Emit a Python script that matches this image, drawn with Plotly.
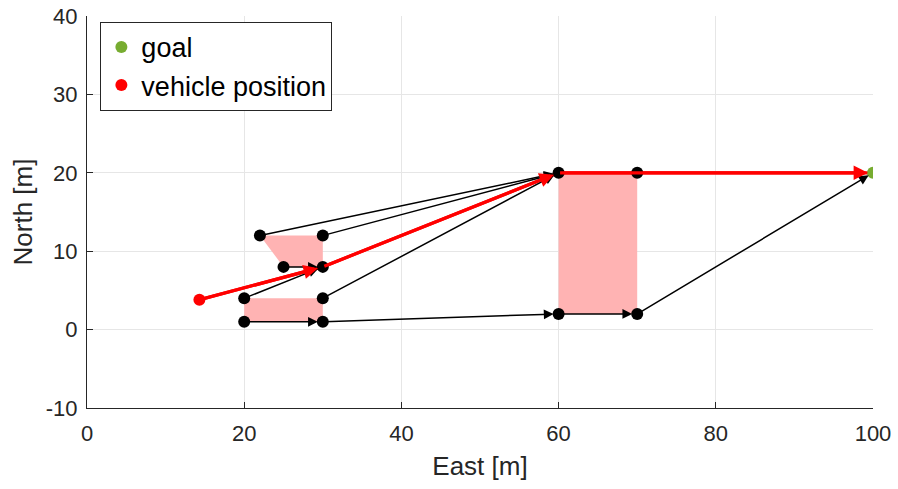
import plotly.graph_objects as go

# Graph nodes (East, North) in metres
node_east = [22, 30, 25, 30, 20, 30, 20, 30, 60, 70, 60, 70]
node_north = [12, 12, 8, 8, 4, 4, 1, 1, 20, 20, 2, 2]

goal_east, goal_north = [100], [20]
vehicle_east, vehicle_north = [14.3], [3.8]

# Shaded regions (polygon vertices)
regions = [
    ([22, 30, 30, 25], [12, 12, 8, 8]),
    ([20, 30, 30, 20], [1, 1, 4, 4]),
    ([60, 70, 70, 60], [2, 2, 20, 20]),
]

# Candidate edges (from -> to)
edges = [
    ((22, 12), (60, 20)),
    ((30, 12), (60, 20)),
    ((25, 8), (30, 8)),
    ((20, 4), (30, 8)),
    ((30, 8), (60, 20)),
    ((30, 4), (60, 20)),
    ((20, 1), (30, 1)),
    ((30, 1), (60, 2)),
    ((60, 2), (70, 2)),
    ((70, 2), (100, 20)),
]

# Chosen path
path_east = [14.3, 30, 60, 100]
path_north = [3.8, 8, 20, 20]

x_ticks = [0, 20, 40, 60, 80, 100]
y_ticks = [-10, 0, 10, 20, 30, 40]

fig = go.Figure()

for xs, ys in regions:
    fig.add_trace(go.Scatter(
        x=xs + [xs[0]], y=ys + [ys[0]], fill="toself", mode="none",
        fillcolor="rgb(255,179,179)", showlegend=False, hoverinfo="skip"))

# Path line drawn as a trace so it stays continuous
fig.add_trace(go.Scatter(
    x=path_east, y=path_north, mode="lines",
    line=dict(color="red", width=3.2), showlegend=False, hoverinfo="skip"))

annotations = []
for (x0, y0), (x1, y1) in edges:
    annotations.append(dict(
        x=x1, y=y1, ax=x0, ay=y0, xref="x", yref="y", axref="x", ayref="y",
        showarrow=True, arrowhead=2, arrowsize=1.3, arrowwidth=1.5,
        arrowcolor="black", standoff=5, text=""))

for i in range(len(path_east) - 1):
    annotations.append(dict(
        x=path_east[i + 1], y=path_north[i + 1], ax=path_east[i], ay=path_north[i],
        xref="x", yref="y", axref="x", ayref="y",
        showarrow=True, arrowhead=2, arrowsize=0.9, arrowwidth=3.2,
        arrowcolor="red", standoff=5, text=""))

fig.add_trace(go.Scatter(
    x=node_east, y=node_north, mode="markers",
    marker=dict(color="black", size=12), showlegend=False, hoverinfo="skip"))

fig.add_trace(go.Scatter(
    x=goal_east, y=goal_north, mode="markers", name="goal",
    marker=dict(color="rgb(119,172,48)", size=12)))

fig.add_trace(go.Scatter(
    x=vehicle_east, y=vehicle_north, mode="markers", name="vehicle position",
    marker=dict(color="red", size=12)))

axis_common = dict(
    showgrid=True, gridcolor="rgb(230,230,230)", gridwidth=1,
    zeroline=False, showline=True, linecolor="rgb(38,38,38)", linewidth=1,
    ticks="inside", ticklen=6, tickcolor="rgb(38,38,38)",
    tickfont=dict(size=22, color="rgb(38,38,38)"),
    mirror=False, automargin=False,
)

fig.update_layout(
    width=898, height=489,
    margin=dict(l=87, r=25, t=16, b=81),
    paper_bgcolor="white", plot_bgcolor="white",
    font=dict(family="Liberation Sans, Arial, sans-serif", color="rgb(38,38,38)"),
    xaxis=dict(range=[0, 100], tickmode="array", tickvals=x_ticks,
               ticktext=[str(v) for v in x_ticks], ticklabelstandoff=6,
               title=dict(text="East [m]", font=dict(size=26), standoff=11),
               **axis_common),
    yaxis=dict(range=[-10, 40], tickmode="array", tickvals=y_ticks,
               ticktext=[str(v) for v in y_ticks], ticklabelstandoff=4,
               title=dict(text="North [m]", font=dict(size=26), standoff=5),
               **axis_common),
    legend=dict(x=0.017, y=0.985, xanchor="left", yanchor="top",
                bgcolor="white", bordercolor="rgb(38,38,38)", borderwidth=1,
                font=dict(size=27, color="black"),
                itemsizing="constant", tracegroupgap=0),
    annotations=annotations,
    showlegend=True,
)

fig.write_html("out.html")
